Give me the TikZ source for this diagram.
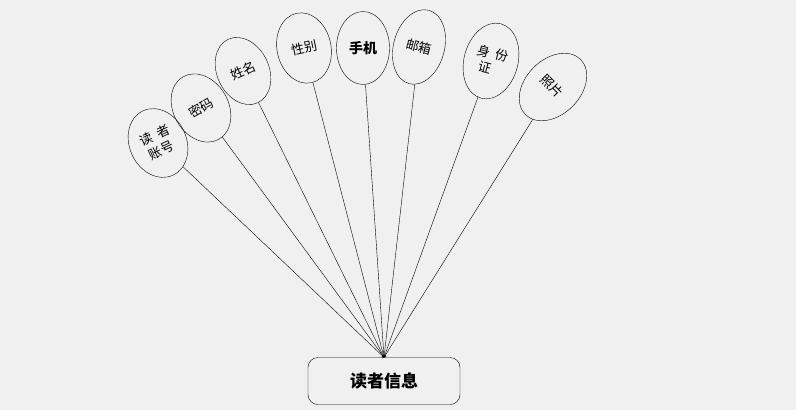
\documentclass[tikz,border=0pt]{standalone}
\usepackage{fontspec}
\setmainfont{Noto Sans CJK SC}
\usetikzlibrary{shapes.geometric}
\definecolor{bggray}{RGB}{240,240,240}
\tikzset{
  attr/.style={draw, ellipse, inner sep=0pt, align=center, font=\fontsize{13}{16}\selectfont},
  entity/.style={draw, rounded corners=10pt, minimum width=152pt, minimum height=47pt, font=\fontsize{17}{20}\selectfont\bfseries}
}
\begin{document}
\begin{tikzpicture}[x=1pt, y=-1pt]
    \fill[bggray] (0,0) rectangle (796,410);
    \useasboundingbox (0,0) rectangle (796,410);
    \node[entity] (info) at (384,381) {读者信息};
    \foreach \name/\x/\y/\w/\h/\ang/\txt in
      {
        acct/158/143/57/71/25/{读\ \ 者\\账号},
        pwd/201/108/55/72/30/{密码},
        uname/243/71/52/70/25/{姓名},
        sex/304/48/54/71/12/{性别},
        phone/363/48/53/73/0/{\bfseries\fontsize{14}{16}\selectfont 手机},
        mail/419/47/51/76/-15/{邮箱},
        idno/491/61/54/77/-15/{身\ \ 份\\证\ \ \ \ },
        photo/553/87/55/78/-45/{照片}
      }
      {
        \node[attr, minimum width=\w pt, minimum height=\h pt, rotate=\ang] (\name) at (\x,\y) {\txt};
        \draw[->] (\name) -- (info.north);
      }
  \end{tikzpicture}
\end{document}
